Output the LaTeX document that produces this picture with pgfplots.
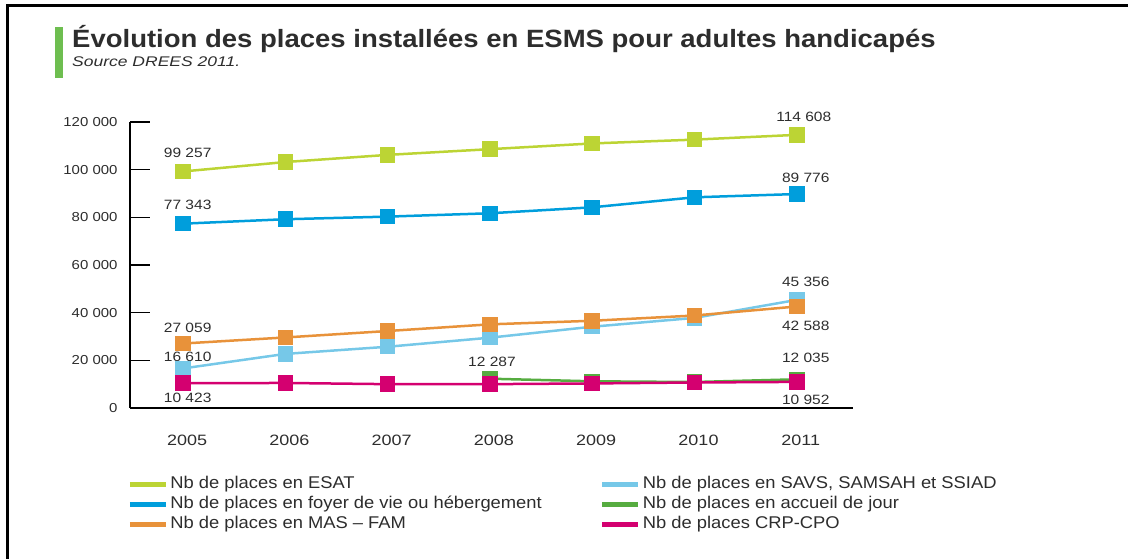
\documentclass[border=0pt]{standalone}
\usepackage{fontspec}
\setmainfont{Liberation Sans}
\newfontfamily\titlefont[FakeStretch=1.1]{Liberation Sans}
\newfontfamily\subfont[FakeStretch=1.25]{Liberation Sans}
\newfontfamily\numfont[FakeStretch=1.15]{Liberation Sans}
\newfontfamily\yearfont[FakeStretch=1.2]{Liberation Sans}
\newfontfamily\legfont[FakeStretch=1.08]{Liberation Sans}
\usepackage{pgfplots}
\pgfplotsset{compat=1.18}
\definecolor{cEsat}{RGB}{188,212,52}
\definecolor{cFoyer}{RGB}{0,158,220}
\definecolor{cMas}{RGB}{232,146,58}
\definecolor{cSavs}{RGB}{118,200,232}
\definecolor{cAcc}{RGB}{86,172,64}
\definecolor{cCrp}{RGB}{212,0,112}
\definecolor{cTxt}{RGB}{45,45,45}
\definecolor{cBar}{RGB}{110,190,80}
\begin{document}
\begin{tikzpicture}
\useasboundingbox (0pt,0pt) rectangle (1128pt,559pt);
\draw[line width=3pt] (7pt,0pt) -- (7pt,553pt) -- (1128pt,553pt);
\fill[cBar] (55pt,481pt) rectangle (63pt,532pt);
\node[anchor=base west, inner sep=0pt, text=cTxt, font=\titlefont\bfseries\fontsize{25}{28}\selectfont] at (72pt,511pt) {Évolution des places installées en ESMS pour adultes handicapés};
\node[anchor=base west, inner sep=0pt, text=cTxt, font=\subfont\itshape\fontsize{14}{16}\selectfont] at (72pt,492pt) {Source DREES 2011.};
\begin{axis}[
  at={(130pt,151pt)}, anchor=south west,
  scale only axis, width=723pt, height=286pt,
  xmin=2004.48, xmax=2011.55, ymin=0, ymax=120000,
  clip=false,
  scaled y ticks=false,
  axis x line=bottom, axis y line=left,
  axis line style={-, line width=1.5pt, black},
  xtick={2005,2006,2007,2008,2009,2010,2011},
  xticklabels={2005,2006,2007,2008,2009,2010,2011},
  ytick={0,20000,40000,60000,80000,100000,120000},
  yticklabels={0,20 000,40 000,60 000,80 000,100 000,120 000},
  major x tick style={draw=none},
  y tick style={line width=1.5pt, black},
  tick align=inside, major tick length=20pt,
  y tick label style={font=\numfont\fontsize{13}{15}\selectfont, text=cTxt, xshift=-9pt},
  x tick label style={font=\yearfont\fontsize{15}{17}\selectfont, text=cTxt, yshift=-23pt, xshift=4pt},
  legend columns=2,
  legend cell align=left,
  legend style={draw=none, fill=none, at={(-0.004,-0.239)}, anchor=north west,
    font=\legfont\fontsize{17}{19}\selectfont, text=cTxt,
    row sep=4pt, inner sep=0pt,
    nodes={inner xsep=2pt, inner ysep=0pt, text height=12pt, text depth=4pt},
    /tikz/column 2/.style={column sep=56pt}},
  legend image code/.code={\draw[line width=5pt] (0pt,0pt) -- (36pt,0pt);},
  every axis plot/.append style={line width=2.5pt, mark=square*, mark size=6.5pt, mark options={solid}},
]
\addplot[color=cEsat] coordinates {(2005,99257) (2006,103200) (2007,106200) (2008,108600) (2009,111000) (2010,112600) (2011,114608)};
\addlegendentry{Nb de places en ESAT}
\addplot[color=cSavs] coordinates {(2005,16610) (2006,22700) (2007,25700) (2008,29500) (2009,34100) (2010,37800) (2011,45356)};
\addlegendentry{Nb de places en SAVS, SAMSAH et SSIAD}
\addplot[color=cFoyer] coordinates {(2005,77343) (2006,79200) (2007,80300) (2008,81700) (2009,84200) (2010,88400) (2011,89776)};
\addlegendentry{Nb de places en foyer de vie ou hébergement}
\addplot[color=cAcc] coordinates {(2008,12287) (2009,11200) (2010,10900) (2011,12035)};
\addlegendentry{Nb de places en accueil de jour}
\addplot[color=cMas] coordinates {(2005,27059) (2006,29600) (2007,32300) (2008,35100) (2009,36600) (2010,38800) (2011,42588)};
\addlegendentry{Nb de places en MAS – FAM}
\addplot[color=cCrp] coordinates {(2005,10423) (2006,10500) (2007,10000) (2008,10000) (2009,10300) (2010,10700) (2011,10952)};
\addlegendentry{Nb de places CRP-CPO}
\begin{scope}[every node/.style={font=\numfont\fontsize{13.5}{15}\selectfont, text=cTxt}]
\node at (axis cs:2005,99257) [xshift=4.5pt, yshift=19pt] {99 257};
\node at (axis cs:2005,77343) [xshift=4.5pt, yshift=19pt] {77 343};
\node at (axis cs:2005,27059) [xshift=4.5pt, yshift=16pt] {27 059};
\node at (axis cs:2005,16610) [xshift=4.5pt, yshift=12pt] {16 610};
\node at (axis cs:2005,10423) [xshift=4.5pt, yshift=-15pt] {10 423};
\node at (axis cs:2008,12287) [xshift=2pt, yshift=17pt] {12 287};
\node at (axis cs:2011,114608) [xshift=7pt, yshift=18pt] {114 608};
\node at (axis cs:2011,89776) [xshift=9pt, yshift=16pt] {89 776};
\node at (axis cs:2011,45356) [xshift=9pt, yshift=18pt] {45 356};
\node at (axis cs:2011,42588) [xshift=9pt, yshift=-19pt] {42 588};
\node at (axis cs:2011,12035) [xshift=9pt, yshift=21pt] {12 035};
\node at (axis cs:2011,10952) [xshift=9pt, yshift=-18pt] {10 952};
\end{scope}
\end{axis}
\end{tikzpicture}
\end{document}
